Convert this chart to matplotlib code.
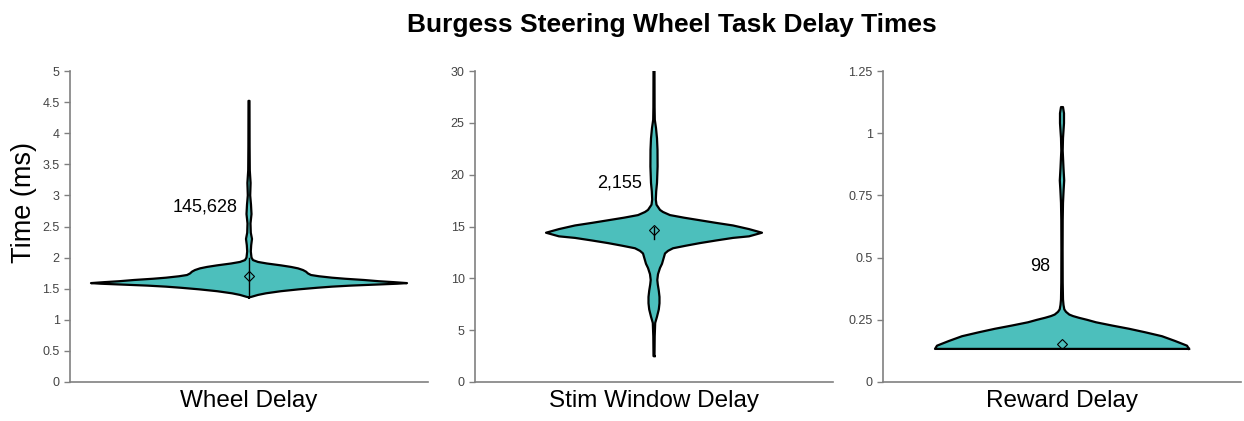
import numpy as np
import matplotlib
matplotlib.use("Agg")
import matplotlib.pyplot as plt

plt.rcParams['font.family'] = ['Liberation Sans', 'DejaVu Sans']

# groups and counts
groups = ["Wheel Delay", "Stim Window Delay", "Reward Delay"]
n_obs = [145628, 2155, 98]
means = [1.70, 14.65, 0.154]

# violin outlines: y levels and (relative) density half-widths
wheel_y = [1.36, 1.372, 1.40, 1.426, 1.46, 1.49, 1.515, 1.533, 1.55, 1.565, 1.58, 1.59,
           1.605, 1.62, 1.64, 1.66, 1.677, 1.70, 1.72, 1.745, 1.774, 1.80, 1.827, 1.85,
           1.875, 1.905, 1.93, 1.96, 2.0, 2.1, 2.2, 2.3, 2.4, 2.55, 2.7, 2.85, 3.0, 3.2,
           3.4, 3.8, 4.52]
wheel_d = [0, 3, 9, 17, 32, 50, 68, 83, 102, 125, 148, 158,
           145, 130, 115, 96, 83, 70, 62, 59, 57, 54, 49, 42,
           32, 18, 9, 4, 2.5, 1.8, 2.2, 3, 1.8, 1.5, 2.5, 2, 1.2, 1.6,
           0.8, 0.6, 0.5]

stim_y = [2.5, 4.4, 5.7, 6.3, 7.0, 7.6, 8.2, 8.8, 9.4, 9.84, 10.4, 11.0, 11.4, 11.9,
          12.4, 12.65, 12.9, 13.15, 13.4, 13.65, 13.9, 14.05, 14.4, 14.75, 15.1, 15.35,
          15.6, 15.85, 16.1, 16.4, 16.6, 17.1, 17.6, 18.4, 19.2, 20.8, 22.4, 23.5, 24.5,
          25.3, 26.5, 30.0]
stim_d = [0.5, 0.7, 1.2, 3, 4.8, 5.5, 5.5, 4.8, 3.8, 3.3, 4, 6, 8, 9.5,
          11, 14, 19, 32, 46, 62, 79, 95, 108, 95, 79, 62,
          46, 30, 16, 9, 6, 2.5, 1.8, 2.2, 3, 3.6, 3.5, 3, 2,
          0.8, 0.6, 0.5]

reward_y = [0.133, 0.146, 0.165, 0.184, 0.20, 0.214, 0.227, 0.240, 0.25, 0.258, 0.265,
            0.271, 0.282, 0.292, 0.31, 0.332, 0.40, 0.53, 0.65, 0.72, 0.77, 0.81, 0.86,
            0.93, 0.98, 1.04, 1.08, 1.105]
reward_d = [127, 125, 113, 100, 83, 67, 50, 34, 25, 17, 11,
            7.3, 4, 2.3, 1.5, 1.0, 0.7, 0.6, 0.7, 1, 1.6, 2.2, 1.5,
            0.7, 1, 2, 2, 1]

profiles = [(wheel_y, wheel_d), (stim_y, stim_d), (reward_y, reward_d)]
y_limits = [5, 30, 1.25]
y_ticks = [np.arange(0, 5.01, 0.5), np.arange(0, 30.1, 5), np.arange(0, 1.26, 0.25)]
# whisker line inside the body (wheel, stim); reward has none
whiskers = [(1.37, 2.0), (13.8, 15.0), None]
label_pos = [(-44, 2.82), (-34, 19.2), (-22, 0.466)]

fill_col = '#4cbfbc'
axis_col = '#808080'

fig = plt.figure(figsize=(12.44, 4.21), dpi=100)
lefts = [70, 475, 883]
for i in range(3):
    ax = fig.add_axes([lefts[i] / 1244, 39 / 421, 358 / 1244, 311 / 421])
    ys, ds = profiles[i]
    ys = np.array(ys)
    ds = np.array(ds)
    ax.fill_betweenx(ys, -ds, ds, facecolor=fill_col, edgecolor='none', zorder=2)
    # outline as one closed path
    ox = np.concatenate([ds, -ds[::-1], ds[:1]])
    oy = np.concatenate([ys, ys[::-1], ys[:1]])
    ax.plot(ox, oy, color='black', lw=1.6, solid_joinstyle='round', zorder=3)
    if whiskers[i] is not None:
        ax.plot([0, 0], whiskers[i], color='black', lw=1.0, zorder=4)
    ax.plot([0], [means[i]], marker='D', markersize=5, markerfacecolor='none',
            markeredgecolor='black', markeredgewidth=0.8, zorder=5)
    lx, ly = label_pos[i]
    ax.text(lx, ly, f"{n_obs[i]:,}", ha='center', va='center', fontsize=13, color='black')

    ax.set_xlim(-179, 179)
    ax.set_ylim(0, y_limits[i])
    ax.set_yticks(y_ticks[i])
    ax.set_yticklabels([f"{t:g}" for t in y_ticks[i]])
    ax.set_xticks([])
    ax.set_xlabel(groups[i], fontsize=17.5, labelpad=6)
    for s in ['top', 'right']:
        ax.spines[s].set_visible(False)
    for s in ['left', 'bottom']:
        ax.spines[s].set_color(axis_col)
        ax.spines[s].set_linewidth(1.2)
    ax.tick_params(axis='y', colors=axis_col, labelcolor='#444444', labelsize=9,
                   length=4, width=1)
    if i == 0:
        ax.set_ylabel("Time (ms)", fontsize=19.5, va='center')
        ax.yaxis.set_label_coords(-0.128, 0.576)

fig.suptitle("Burgess Steering Wheel Task Delay Times", fontsize=19, fontweight='bold',
             x=0.54, y=0.97)
fig.savefig("out.png", dpi=100)
